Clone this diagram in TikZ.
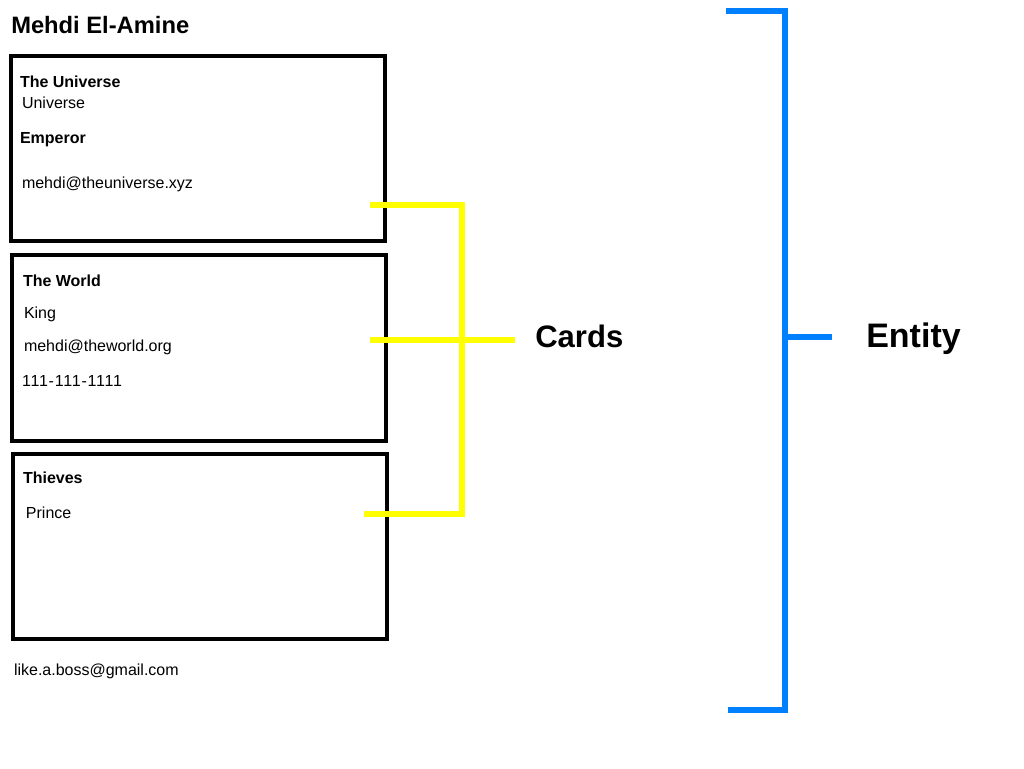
\documentclass[tikz,border=0pt]{standalone}
\usepackage{fontspec}
\setmainfont{Liberation Sans}
\definecolor{ybr}{RGB}{255,255,0}
\definecolor{bbr}{RGB}{0,128,255}
\begin{document}
\begin{tikzpicture}[x=0.75pt,y=-0.75pt,
  card/.style={draw=black,line width=3pt,fill=none,inner sep=0pt,outer sep=0pt},
  txt/.style={anchor=base west,inner sep=0pt,outer sep=0pt,font=\fontsize{12}{14}\selectfont},
  btxt/.style={txt,font=\fontsize{12}{14}\selectfont\bfseries},
  ybrace/.style={draw=ybr,line width=4.5pt,line join=miter},
  bbrace/.style={draw=bbr,line width=4.5pt,line join=miter},
  biglabel/.style={anchor=base west,inner sep=0pt,font=\bfseries}]
\useasboundingbox (0,0) rectangle (1024,768);
\fill[white] (0,0) rectangle (1024,768);
% title
\node[biglabel,font=\fontsize{17.8}{20}\selectfont\bfseries] (title) at (11,33) {Mehdi El-Amine};
% cards
\node[card,minimum width=373.5*0.75pt,minimum height=185.5*0.75pt] (c1) at (197.75,148.25) {};
\node[card,minimum width=374*0.75pt,minimum height=186*0.75pt] (c2) at (199,348) {};
\node[card,minimum width=374*0.75pt,minimum height=185*0.75pt] (c3) at (200,546.5) {};
% card 1 text
\node[btxt] (t1a) at (20,87) {The Universe};
\node[txt] (t1b) at (22,108) {Universe};
\node[btxt] (t1c) at (20,143) {Emperor};
\node[txt] (t1d) at (22,188) {mehdi@theuniverse.xyz};
% card 2 text
\node[btxt] (t2a) at (23,286) {The World};
\node[txt] (t2b) at (24,318) {King};
\node[txt] (t2c) at (24,351) {mehdi@theworld.org};
\node[txt] (t2d) at (22,386) {\addfontfeature{LetterSpace=5}111-111-1111};
% card 3 text
\node[btxt] (t3a) at (23,483) {Thieves};
\node[txt] (t3b) at (26,518) {Prince};
% footer
\node[txt] (foot) at (14,675) {like.a.boss@gmail.com};
% yellow bracket
\coordinate (ya) at (370,204.5);
\coordinate (yb) at (461.5,204.5);
\coordinate (yc) at (461.5,514);
\coordinate (yd) at (364,514);
\coordinate (ym1) at (370,340);
\coordinate (ym2) at (515,340);
\draw[ybrace] (ya) -- (yb) -- (yc) -- (yd);
\draw[ybrace] (ym1) -- (ym2);
\node[biglabel,font=\fontsize{23.3}{26}\selectfont\bfseries] (cards) at (535,347) {Cards};
% blue bracket
\coordinate (ba) at (726,11);
\coordinate (bb) at (785,11);
\coordinate (bc) at (785,710);
\coordinate (bd) at (728,710);
\coordinate (bm1) at (785,336.5);
\coordinate (bm2) at (832,336.5);
\draw[bbrace] (ba) -- (bb) -- (bc) -- (bd);
\draw[bbrace] (bm1) -- (bm2);
\node[biglabel,font=\fontsize{25.5}{28}\selectfont\bfseries] (entity) at (866,347) {Entity};
\end{tikzpicture}
\end{document}
